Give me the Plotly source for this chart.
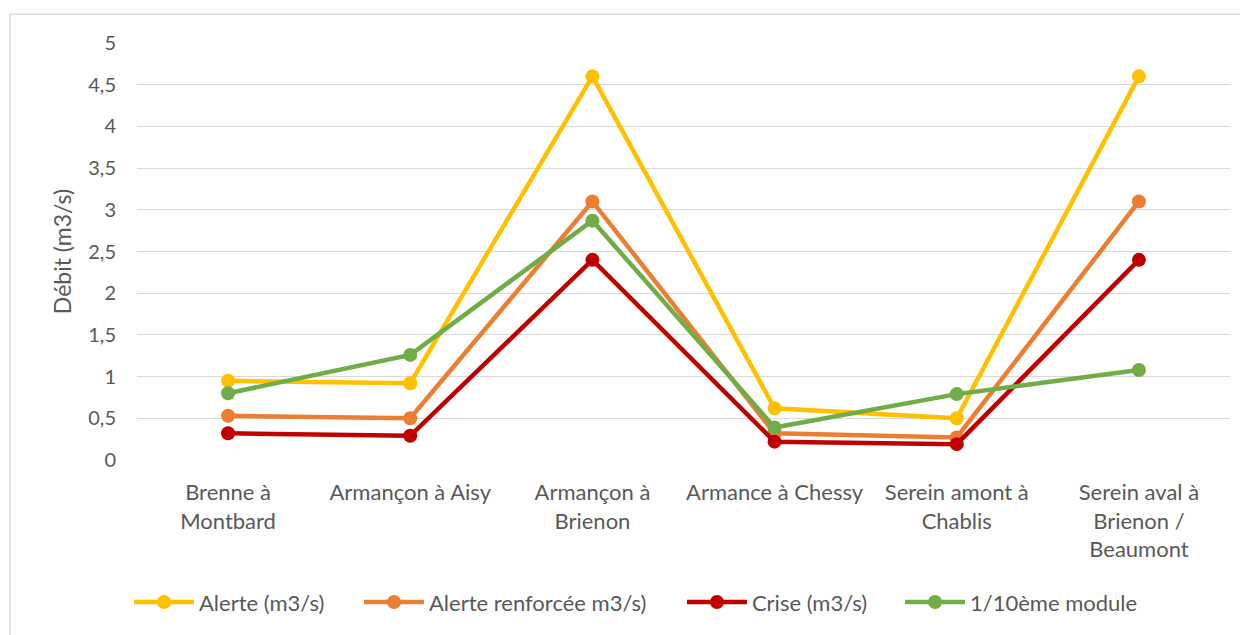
import plotly.graph_objects as go

categories = ["Brenne à<br>Montbard", "Armançon à Aisy", "Armançon à<br>Brienon",
              "Armance à Chessy", "Serein amont à<br>Chablis", "Serein aval à<br>Brienon /<br>Beaumont"]
alerte = [0.95, 0.92, 4.6, 0.62, 0.50, 4.6]
alerte_renf = [0.53, 0.50, 3.1, 0.32, 0.27, 3.1]
crise = [0.32, 0.29, 2.4, 0.22, 0.19, 2.4]
module10 = [0.80, 1.26, 2.87, 0.39, 0.79, 1.08]

series = [
    ("Alerte (m3/s)", alerte, "#FFC000"),
    ("Alerte renforcée m3/s)", alerte_renf, "#ED7D31"),
    ("Crise (m3/s)", crise, "#C00000"),
    ("1/10ème module", module10, "#70AD47"),
]
legend_ids = ["legend", "legend2", "legend3", "legend4"]
legend_x = [-0.0073, 0.2031, 0.4986, 0.6981]

fig = go.Figure()
for (name, vals, col), lid in zip(series, legend_ids):
    fig.add_trace(go.Scatter(
        x=list(range(len(categories))), y=vals, name=name, mode="lines+markers",
        line=dict(color=col, width=4.5), marker=dict(color=col, size=14), legend=lid))

font_family = "Lato, 'Open Sans', sans-serif"
layout_legends = {}
for lid, lx in zip(legend_ids, legend_x):
    layout_legends[lid] = dict(orientation="h", x=lx, xanchor="left", y=-0.341, yanchor="middle",
                               font=dict(size=22), itemwidth=60, bgcolor="rgba(0,0,0,0)")

fig.update_layout(
    width=1240, height=627,
    margin=dict(l=129, r=18, t=35, b=173),
    paper_bgcolor="white", plot_bgcolor="white",
    font=dict(family=font_family, color="#595959", size=22),
    xaxis=dict(tickmode="array", tickvals=list(range(len(categories))), ticktext=categories,
               range=[-0.5, len(categories) - 0.5], showgrid=False, zeroline=False,
               showline=False, ticks="", tickfont=dict(size=22), ticklabelstandoff=17),
    yaxis=dict(range=[0, 5], dtick=0.5, showgrid=True, gridcolor="#D9D9D9", gridwidth=1.4,
               zeroline=False, showline=False, ticks="", tickformat=".1~f",
               tickfont=dict(size=20), ticklabelstandoff=20,
               title=dict(text="Débit (m3/s)", font=dict(size=23), standoff=10)),
    separators=", ",
    showlegend=True,
    **layout_legends,
)
fig.add_shape(type="line", xref="paper", yref="paper",
              x0=-0.1162, x1=1.03, y0=1.069, y1=1.069, line=dict(color="#D9D9D9", width=1.5))
fig.add_shape(type="line", xref="paper", yref="paper",
              x0=-0.1162, x1=-0.1162, y0=1.069, y1=-0.45, line=dict(color="#D9D9D9", width=1.5))

fig.write_html("out.html")
